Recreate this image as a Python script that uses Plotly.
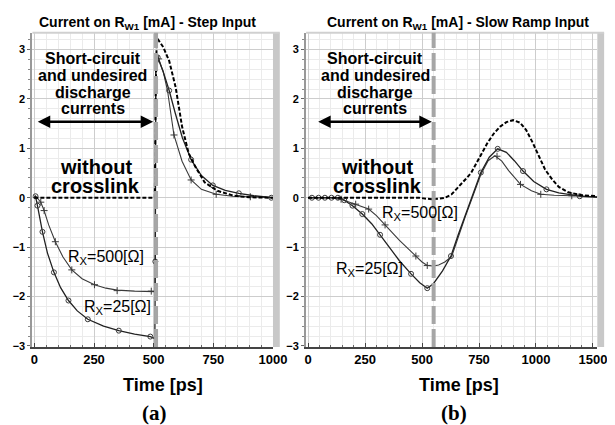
import plotly.graph_objects as go

W, H = 615, 425

# ---------------- data: (a) step input ----------------
step_nox_t = [0, 505, 508, 513, 540, 565, 592, 619, 646, 673, 714, 767, 837, 900, 1000]
step_nox_v = [0, 0, 2.0, 3.24, 3.05, 2.77, 2.24, 1.44, 0.91, 0.64, 0.31, 0.14, 0.04, 0.01, 0]

step_r500_t = [0, 4, 27, 41, 60, 88, 120, 157, 200, 252, 300, 347, 420, 490, 505,
               509, 521, 540, 558, 585, 619, 657, 700, 762, 830, 905, 1000]
step_r500_v = [0, 0.04, -0.09, -0.26, -0.55, -0.89, -1.2, -1.46, -1.64, -1.76, -1.83, -1.87, -1.89, -1.89, -1.9,
               2.85, 2.81, 2.55, 2.17, 1.27, 0.74, 0.36, 0.17, 0.07, 0.03, 0.02, 0]
step_r500_mt = [27, 41, 88, 157, 252, 347, 490, 521, 585, 657, 762, 905]
step_r500_mv = [-0.09, -0.26, -0.89, -1.46, -1.76, -1.88, -1.89, 2.81, 1.27, 0.36, 0.07, 0.02]

step_r25_t = [0, 5, 13, 34, 55, 82, 110, 143, 180, 224, 290, 354, 420, 486, 505,
              507, 509, 517, 540, 565, 590, 620, 657, 700, 748, 800, 857, 920, 1000]
step_r25_v = [0, 0.03, -0.16, -0.69, -1.12, -1.51, -1.82, -2.08, -2.29, -2.46, -2.6, -2.69, -2.76, -2.81, -2.85,
              -1.29, 2.9, 2.84, 2.55, 2.17, 1.72, 1.22, 0.77, 0.45, 0.25, 0.15, 0.09, 0.04, 0]
step_r25_mt = [5, 13, 34, 82, 143, 224, 354, 486, 507, 517, 565, 657, 748, 857, 993]
step_r25_mv = [0.03, -0.16, -0.69, -1.51, -2.08, -2.46, -2.69, -2.81, -1.29, 2.84, 2.17, 0.77, 0.25, 0.09, 0]

# ---------------- data: (b) slow ramp input ----------------
ramp_nox_t = [0, 450, 487, 520, 544, 575, 601, 630, 658, 690, 715, 740, 765, 786, 815, 843, 870, 900,
              930, 957, 985, 1014, 1040, 1071, 1100, 1142, 1200, 1269]
ramp_nox_v = [0, 0, 0, -0.02, -0.03, -0.02, 0, 0.07, 0.2, 0.37, 0.5, 0.72, 0.93, 1.1, 1.3, 1.44, 1.53, 1.57,
              1.52, 1.37, 1.12, 0.84, 0.57, 0.37, 0.22, 0.11, 0.05, 0.03]

ramp_r25_t = [0, 17, 46, 74, 103, 131, 159, 195, 238, 280, 316, 360, 400, 452, 490, 523, 550, 590,
              627, 658, 690, 722, 758, 795, 832, 870, 905, 943, 990, 1046, 1100, 1157, 1200, 1269]
ramp_r25_v = [0, 0, 0, 0, 0, 0, -0.05, -0.16, -0.33, -0.53, -0.75, -1.02, -1.27, -1.54, -1.72, -1.83, -1.74, -1.48,
              -1.18, -0.76, -0.35, 0.05, 0.51, 0.82, 0.99, 0.92, 0.75, 0.54, 0.33, 0.17, 0.1, 0.06, 0.03, 0.01]
ramp_r25_mt = [17, 46, 74, 103, 131, 159, 195, 238, 316, 452, 523, 627, 758, 832, 943, 1046, 1192]
ramp_r25_mv = [0, 0, 0, 0, 0, -0.05, -0.16, -0.33, -0.75, -1.54, -1.83, -1.18, 0.51, 0.99, 0.54, 0.17, 0.03]

ramp_r500_t = [0, 100, 145, 209, 266, 300, 338, 400, 473, 500, 523, 550, 573, 600, 630, 658, 690,
               722, 758, 790, 820, 850, 880, 932, 980, 1021, 1080, 1157, 1269]
ramp_r500_v = [0, 0, -0.03, -0.13, -0.23, -0.36, -0.55, -0.86, -1.18, -1.3, -1.37, -1.38, -1.36, -1.3, -1.19,
               -0.8, -0.38, 0.02, 0.47, 0.75, 0.85, 0.74, 0.55, 0.27, 0.14, 0.07, 0.05, 0.04, 0.02]
ramp_r500_mt = [145, 209, 266, 338, 473, 523, 829, 932, 1021, 1157]
ramp_r500_mv = [-0.03, -0.13, -0.23, -0.55, -1.18, -1.37, 0.84, 0.27, 0.07, 0.04]

xticks_a = [0, 250, 500, 750, 1000]
xticks_a_text = ["0", "250", "500", "750", "1000"]
xticks_b = [0, 250, 500, 750, 1000, 1250]
xticks_b_text = ["0", "250", "500", "750", "1000", "1500"]
yticks = [-3, -2, -1, 0, 1, 2, 3]

titles = ["Current on R<sub>W1</sub> [mA] - Step Input",
          "Current on R<sub>W1</sub> [mA] - Slow Ramp Input"]
note_lines = ["Short-circuit", "and undesired", "discharge", "currents"]
nox_lines = ["without", "crosslink"]

# ---------------- figure ----------------
def px(x):
    return x / W

def py(y):
    return 1 - y / H

fig = go.Figure()
LINE = "#3a3a3a"

def add_curve(t, v, xa, ya, dash=None, width=1.1, color=LINE):
    fig.add_trace(go.Scatter(x=t, y=v, mode="lines", xaxis=xa, yaxis=ya,
                             line=dict(color=color, width=width, dash=dash),
                             hoverinfo="skip", showlegend=False))

def add_marks(t, v, xa, ya, symbol, size):
    fig.add_trace(go.Scatter(x=t, y=v, mode="markers", xaxis=xa, yaxis=ya,
                             marker=dict(symbol=symbol, size=size, color=LINE,
                                         line=dict(color=LINE, width=1)),
                             hoverinfo="skip", showlegend=False))

# panel a
add_curve(step_r500_t, step_r500_v, "x", "y")
add_marks(step_r500_mt, step_r500_mv, "x", "y", "cross-thin-open", 5)
add_curve(step_r25_t, step_r25_v, "x", "y", width=1.3, color="#222")
add_marks(step_r25_mt, step_r25_mv, "x", "y", "circle-open", 5)
add_curve(step_nox_t, step_nox_v, "x", "y", dash="4px,2px", width=2, color="#000")
# panel b
add_curve(ramp_r500_t, ramp_r500_v, "x2", "y2")
add_marks(ramp_r500_mt, ramp_r500_mv, "x2", "y2", "cross-thin-open", 5)
add_curve(ramp_r25_t, ramp_r25_v, "x2", "y2", width=1.3, color="#222")
add_marks(ramp_r25_mt, ramp_r25_mv, "x2", "y2", "circle-open", 5)
add_curve(ramp_nox_t, ramp_nox_v, "x2", "y2", dash="4px,2px", width=2, color="#000")

YDOM = [py(343), py(25)]
YR = [-3.02, 3.34]

def xaxis_cfg(dom, rng, tv, tt):
    return dict(domain=dom, range=rng, tickvals=tv, ticktext=tt, showgrid=True,
                gridcolor="#cdcdcd", gridwidth=1, zeroline=False,
                showline=True, linecolor="#444", linewidth=1.5,
                ticks="inside", ticklen=4, tickcolor="#444",
                tickfont=dict(family="Liberation Sans", size=13, color="#000", weight="bold"),
                minor=dict(dtick=50, tick0=0, showgrid=True, gridcolor="#ebebeb",
                           ticks="inside", ticklen=2, tickcolor="#666"),
                fixedrange=True)

def yaxis_cfg(anchor):
    return dict(domain=YDOM, range=YR, anchor=anchor, tickvals=yticks,
                showgrid=True, gridcolor="#cdcdcd", gridwidth=1, zeroline=False,
                showline=True, linecolor="#999", linewidth=2,
                ticks="outside", ticklen=3, tickcolor="#666",
                tickfont=dict(family="Liberation Sans", size=11, color="#000", weight="bold"),
                minor=dict(dtick=0.2, tick0=0, showgrid=True, gridcolor="#ebebeb",
                           ticks="outside", ticklen=2, tickcolor="#888"),
                fixedrange=True)

fig.update_layout(
    width=W, height=H, margin=dict(l=0, r=0, t=0, b=0),
    paper_bgcolor="white", plot_bgcolor="white", showlegend=False,
    xaxis=dict(anchor="y", **xaxis_cfg([px(23), px(270)], [-2 / 0.245, 1000], xticks_a, xticks_a_text)),
    yaxis=yaxis_cfg("x"),
    xaxis2=dict(anchor="y2", **xaxis_cfg([px(304), px(603)], [-2 / 0.234, 1269], xticks_b, xticks_b_text)),
    yaxis2=yaxis_cfg("x2"),
)

shapes = []
for x0, x1 in [(270, 277), (603, 610)]:
    shapes.append(dict(type="rect", xref="paper", yref="paper", x0=px(x0), x1=px(x1),
                       y0=YDOM[0], y1=YDOM[1], fillcolor="#c8c8c8", line=dict(width=0)))
for x0, x1 in [(23, 277), (304, 610)]:
    shapes.append(dict(type="line", xref="paper", yref="paper", x0=px(x0), x1=px(x1),
                       y0=YDOM[1], y1=YDOM[1], line=dict(color="#d0d0d0", width=2)))
for xr, xv in [("x", 510), ("x2", 551)]:
    shapes.append(dict(type="line", xref=xr, yref="paper", x0=xv, x1=xv,
                       y0=YDOM[0], y1=YDOM[1],
                       line=dict(color="#a6a6a6", width=4, dash="18px,5px"), layer="above"))
fig.update_layout(shapes=shapes)

ann = []
BOLD = dict(family="Liberation Sans", color="#000", weight="bold")
for cx, t in [(141, titles[0]), (460, titles[1])]:
    ann.append(dict(xref="paper", yref="paper", x=px(cx), y=py(15), text=t, showarrow=False,
                    xanchor="center", yanchor="middle", font=dict(size=14, **BOLD)))
for cx, lab in [(157, "Time [ps]"), (461, "Time [ps]")]:
    ann.append(dict(xref="paper", yref="paper", x=px(cx), y=py(381), text=lab, showarrow=False,
                    xanchor="center", yanchor="middle", font=dict(size=18, **BOLD)))
for cx, lab in [(148, "(a)"), (456, "(b)")]:
    ann.append(dict(xref="paper", yref="paper", x=px(cx), y=py(410), text=lab, showarrow=False,
                    xanchor="center", yanchor="middle",
                    font=dict(family="Liberation Serif", size=21, color="#000", weight="bold")))

note_y = [2.82, 2.48, 2.12, 1.8]
for xa, ya, cx, nx, r500, r25, arr in [
        ("x", "y", 245, 257, (300, -1.2), (347, -2.22), (8, 498)),
        ("x2", "y2", 295, 303, (491, -0.32), (269, -1.46), (38, 543))]:
    for line, yy in zip(note_lines, note_y):
        ann.append(dict(xref=xa, yref=ya, x=cx, y=yy, text=line, showarrow=False,
                        xanchor="center", yanchor="middle", font=dict(size=16, **BOLD)))
    for line, yy in zip(nox_lines, [0.63, 0.24]):
        ann.append(dict(xref=xa, yref=ya, x=nx, y=yy, text=line, showarrow=False,
                        xanchor="center", yanchor="middle", font=dict(size=20, **BOLD)))
    ann.append(dict(xref=xa, yref=ya, x=r500[0], y=r500[1], text="R<sub>X</sub>=500[Ω]",
                    showarrow=False, xanchor="center", yanchor="middle",
                    font=dict(family="Liberation Sans", size=16, color="#000")))
    ann.append(dict(xref=xa, yref=ya, x=r25[0], y=r25[1], text="R<sub>X</sub>=25[Ω]",
                    showarrow=False, xanchor="center", yanchor="middle",
                    font=dict(family="Liberation Sans", size=16, color="#000")))
    ann.append(dict(xref=xa, yref=ya, x=arr[1], y=1.54, ax=arr[0], ay=1.54,
                    axref=xa, ayref=ya, text="", showarrow=True, arrowside="end+start",
                    arrowhead=2, arrowsize=1, arrowwidth=2.5, arrowcolor="#000"))
fig.update_layout(annotations=ann)

fig.write_html("out.html")
